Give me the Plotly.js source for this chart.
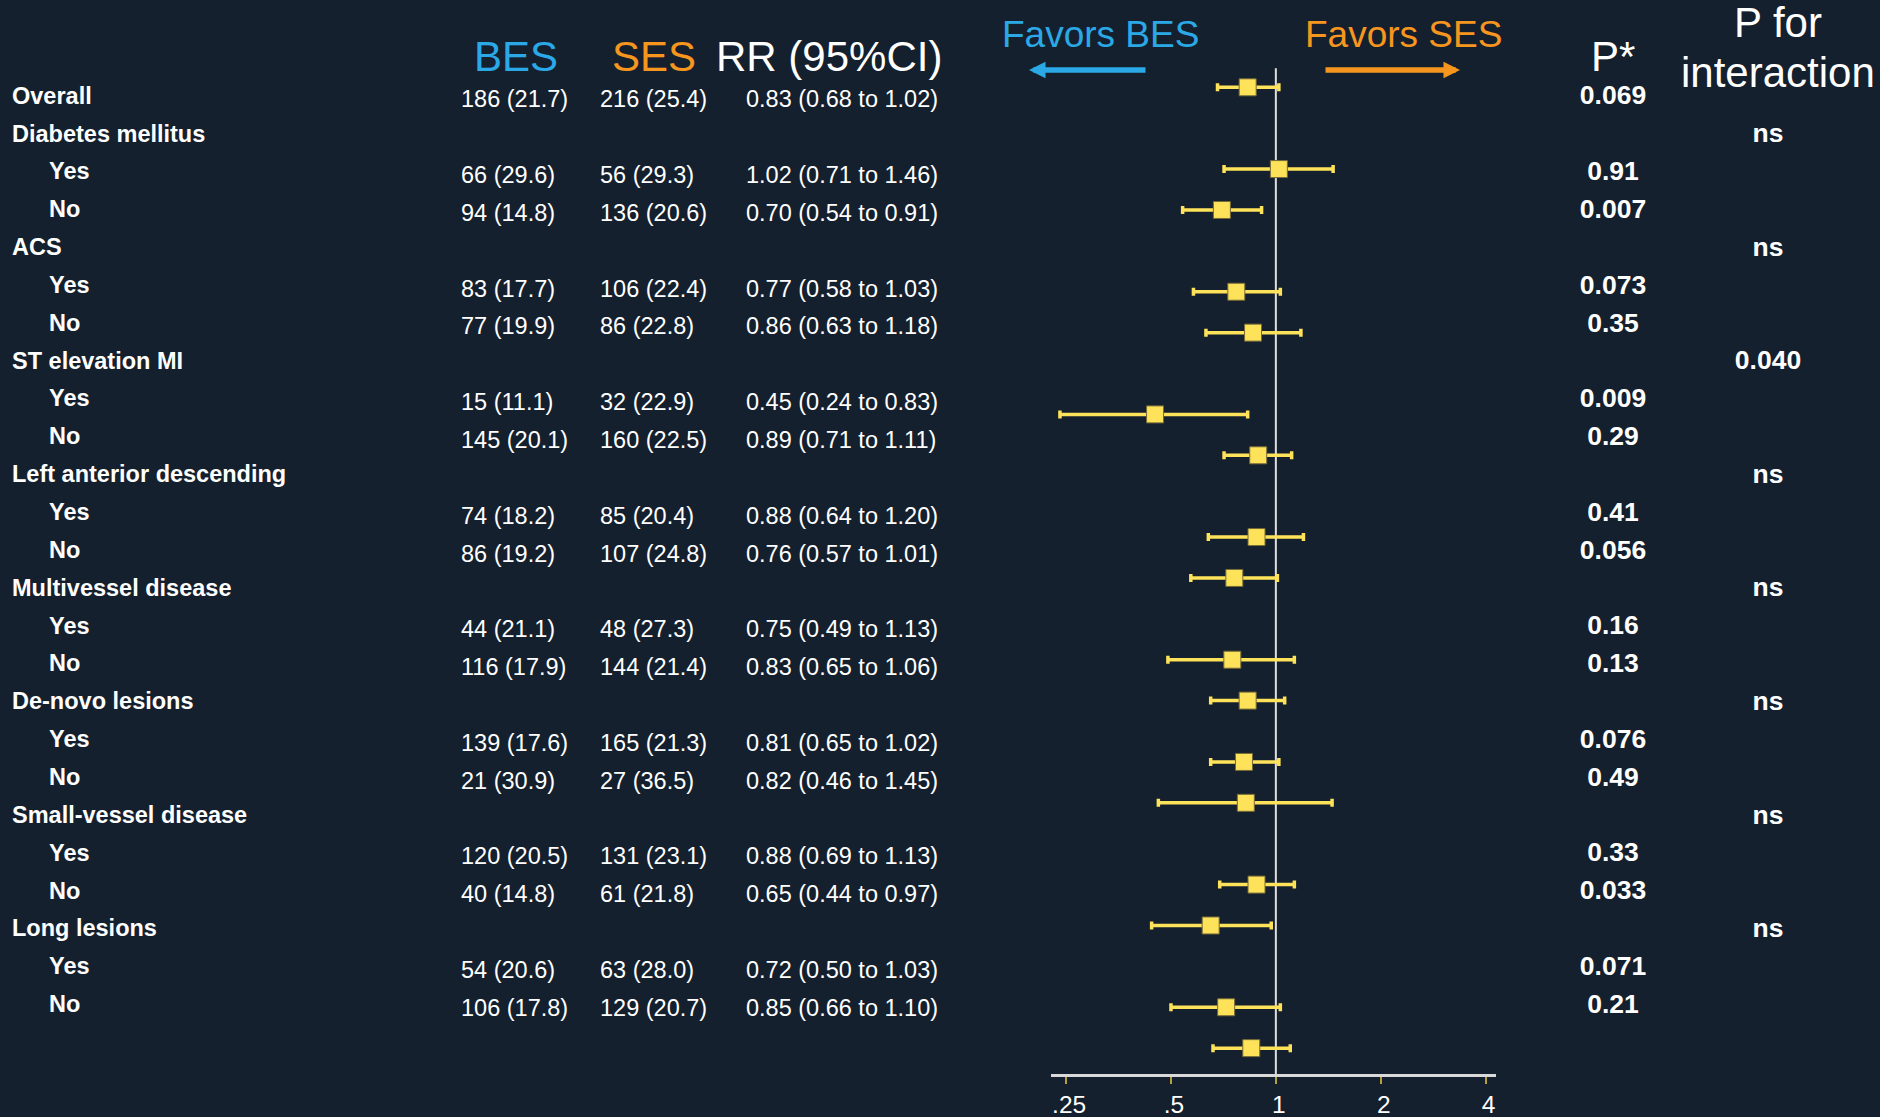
<!DOCTYPE html>
<html>
<head>
<meta charset="utf-8">
<script src="https://cdn.plot.ly/plotly-3.0.1.min.js"></script>
<style>
html,body{margin:0;padding:0;background:#15202e;}
#chart{width:1880px;height:1117px;}
</style>
</head>
<body>
<div id="chart"></div>
<script>
// ---------------- data ----------------
const overallLabel = 'Overall';
const groups = ['Diabetes mellitus','ACS','ST elevation MI','Left anterior descending',
  'Multivessel disease','De-novo lesions','Small-vessel disease','Long lesions'];
const subgroups = ['Yes','No'];
const pInteraction = ['ns','ns','0.040','ns','ns','ns','ns','ns'];

const besEvents = [186,66,94,83,77,15,145,74,86,44,116,139,21,120,40,54,106];
const besPct    = [21.7,29.6,14.8,17.7,19.9,11.1,20.1,18.2,19.2,21.1,17.9,17.6,30.9,20.5,14.8,20.6,17.8];
const sesEvents = [216,56,136,106,86,32,160,85,107,48,144,165,27,131,61,63,129];
const sesPct    = [25.4,29.3,20.6,22.4,22.8,22.9,22.5,20.4,24.8,27.3,21.4,21.3,36.5,23.1,21.8,28.0,20.7];
const rr     = [0.83,1.02,0.70,0.77,0.86,0.45,0.89,0.88,0.76,0.75,0.83,0.81,0.82,0.88,0.65,0.72,0.85];
const ciLow  = [0.68,0.71,0.54,0.58,0.63,0.24,0.71,0.64,0.57,0.49,0.65,0.65,0.46,0.69,0.44,0.50,0.66];
const ciHigh = [1.02,1.46,0.91,1.03,1.18,0.83,1.11,1.20,1.01,1.13,1.06,1.02,1.45,1.13,0.97,1.03,1.10];
const pValue = ['0.069','0.91','0.007','0.073','0.35','0.009','0.29','0.41','0.056',
  '0.16','0.13','0.076','0.49','0.33','0.033','0.071','0.21'];
// row slots of the forest panel (as drawn in the source figure)
const forestRow = [0,2,3,5,6,8,9,11,12,14,15,16.5,17.5,19.5,20.5,22.5,23.5];
const tickVals = [0.25,0.5,1,2,4];
const tickText = ['.25','.5','1','2','4'];

// ---------------- layout helpers ----------------
const W = 1880, H = 1117;
const BG = '#15202e';
const BLUE = '#2aa9e6';
const ORANGE = '#f7961e';
const YELLOW = '#fde25a';
const FONT = 'Liberation Sans, Arial, sans-serif';
const px = v => v / W;
const py = v => 1 - v / H;
const ROWH = 37.85;

// table rows (row index in the table grid)
const nRows = rr.length;
const tableRow = [], subLabel = [];
for (let i = 0; i < nRows; i++) {
  if (i === 0) { tableRow.push(0); subLabel.push(overallLabel); }
  else {
    const g = Math.floor((i - 1) / 2), k = (i - 1) % 2;
    tableRow.push(2 + 3 * g + k);
    subLabel.push(subgroups[k]);
  }
}
const groupRow = groups.map((g, i) => 1 + 3 * i);

const fmtEv = (n, p) => `${n} (${p.toFixed(1)})`;
const fmtRR = (r, l, h) => `${r.toFixed(2)} (${l.toFixed(2)} to ${h.toFixed(2)})`;

function textTrace(yax, x, y, text, pos, size, bold) {
  return {
    type: 'scatter', mode: 'text', xaxis: 'x2', yaxis: yax,
    x: y.map(() => x), y: y,
    text: text.map(t => bold ? `<b>${t}</b>` : t),
    textposition: pos,
    textfont: {family: FONT, size: size, color: '#ffffff'},
    hoverinfo: 'skip', showlegend: false, cliponaxis: false
  };
}

const traces = [];
// group labels (incl. Overall)
traces.push(textTrace('y2', 12, [0].concat(groupRow), [overallLabel].concat(groups), 'middle right', 23.5, true));
// sub labels
traces.push(textTrace('y2', 49, tableRow.slice(1), subLabel.slice(1), 'middle right', 23.5, true));
// BES, SES, RR columns
traces.push(textTrace('y3', 461, tableRow, besEvents.map((n, i) => fmtEv(n, besPct[i])), 'middle right', 23.5, false));
traces.push(textTrace('y3', 600, tableRow, sesEvents.map((n, i) => fmtEv(n, sesPct[i])), 'middle right', 23.5, false));
traces.push(textTrace('y3', 746, tableRow, rr.map((r, i) => fmtRR(r, ciLow[i], ciHigh[i])), 'middle right', 23.5, false));
// P values
traces.push(textTrace('y2', 1613, tableRow, pValue, 'middle center', 26.5, true));
traces.push(textTrace('y2', 1768, groupRow, pInteraction, 'middle center', 26.5, true));

// forest plot
traces.push({
  type: 'scatter', mode: 'markers', xaxis: 'x', yaxis: 'y',
  x: rr, y: forestRow,
  marker: {symbol: 'square', size: 17, color: YELLOW, line: {color: '#756a38', width: 1}},
  error_x: {type: 'data', symmetric: false,
    array: ciHigh.map((h, i) => h - rr[i]),
    arrayminus: ciLow.map((l, i) => rr[i] - l),
    color: YELLOW, thickness: 3.5, width: 4},
  hoverinfo: 'skip', showlegend: false, cliponaxis: false
});

const l2 = v => Math.log10(Math.pow(2, v));

const ann = [];
function hdr(text, x, y, size, color, anchor) {
  ann.push({text: text, xref: 'paper', yref: 'paper', x: px(x), y: py(y),
    xanchor: anchor || 'center', yanchor: 'middle', showarrow: false,
    font: {family: FONT, size: size, color: color}});
}
hdr('BES', 516, 56, 42, BLUE);
hdr('SES', 654, 56, 42, ORANGE);
hdr('RR (95%CI)', 829, 56, 42, '#ffffff');
hdr('Favors BES', 1100, 35, 37, BLUE);
hdr('Favors SES', 1403, 35, 37, ORANGE);
hdr('P*', 1613, 57, 42, '#ffffff');
hdr('P for', 1778, 23, 42, '#ffffff');
hdr('interaction', 1778, 72, 42, '#ffffff');

// arrows
ann.push({text: '', xref: 'paper', yref: 'paper', x: px(1029), y: py(70),
  ax: 118, ay: 0, axref: 'pixel', ayref: 'pixel', showarrow: true,
  arrowhead: 2, arrowsize: 0.6, arrowwidth: 5.5, arrowcolor: BLUE, standoff: 0, startstandoff: 0});
ann.push({text: '', xref: 'paper', yref: 'paper', x: px(1460), y: py(70),
  ax: -136, ay: 0, axref: 'pixel', ayref: 'pixel', showarrow: true,
  arrowhead: 2, arrowsize: 0.6, arrowwidth: 5.5, arrowcolor: ORANGE, standoff: 0, startstandoff: 0});

// table y-axes: row r centred at c + r*ROWH pixels from top
const tableRange = c => [(H - c) / ROWH, -c / ROWH];

const layout = {
  width: W, height: H,
  margin: {l: 0, r: 0, t: 0, b: 0, pad: 0},
  paper_bgcolor: BG, plot_bgcolor: 'rgba(0,0,0,0)',
  showlegend: false,
  font: {family: FONT, color: '#ffffff'},
  xaxis: {
    type: 'log', domain: [px(1051), px(1496)],
    range: [l2(-2.144), l2(2.099)],
    tickvals: tickVals, ticktext: tickText,
    ticks: 'outside', ticklen: 7, tickwidth: 2, tickcolor: '#b4a03c',
    ticklabelshift: 3,
    showline: true, linecolor: '#d9d9d9', linewidth: 2.5,
    showgrid: false, zeroline: false,
    tickfont: {family: FONT, size: 24.5, color: '#ffffff'},
    anchor: 'y', fixedrange: true
  },
  yaxis: {
    domain: [1 - 1074.3 / H, 1 - 68.3 / H],
    range: [24.14, -0.465],
    visible: false, showgrid: false, zeroline: false, anchor: 'x', fixedrange: true
  },
  xaxis2: {domain: [0, 1], range: [0, W], visible: false, anchor: 'y2', fixedrange: true},
  yaxis2: {domain: [0, 1], range: tableRange(97.8), visible: false, anchor: 'x2', fixedrange: true},
  yaxis3: {domain: [0, 1], range: tableRange(101.5), visible: false, anchor: 'x2', overlaying: 'y2', fixedrange: true},
  shapes: [{
    type: 'line', xref: 'x', yref: 'y domain', x0: 1, x1: 1, y0: 0, y1: 1,
    line: {color: '#dedede', width: 2}, layer: 'below'
  }],
  annotations: ann
};

Plotly.newPlot('chart', traces, layout, {displayModeBar: false, staticPlot: true});
</script>
</body>
</html>
